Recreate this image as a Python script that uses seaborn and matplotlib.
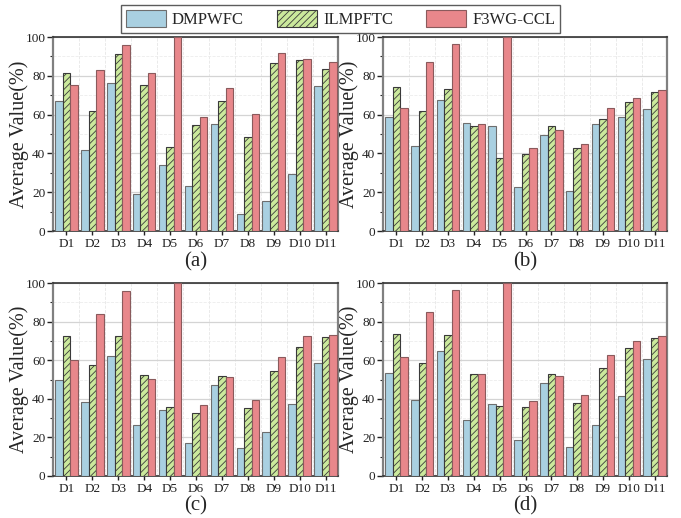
import matplotlib
matplotlib.use("Agg")
import matplotlib.pyplot as plt
import seaborn as sns
import pandas as pd
import numpy as np
from matplotlib.ticker import MultipleLocator
from matplotlib.patches import Patch

categories = ["D1", "D2", "D3", "D4", "D5", "D6", "D7", "D8", "D9", "D10", "D11"]
methods = ["DMPWFC", "ILMPFTC", "F3WG-CCL"]
panel_labels = ["(a)", "(b)", "(c)", "(d)"]

a_dmpwfc = [67.0, 41.9, 76.5, 18.9, 34.2, 23.4, 55.3, 8.6, 15.6, 29.6, 74.9]
a_ilmpftc = [81.6, 62.0, 91.1, 75.4, 43.3, 54.8, 67.2, 48.6, 86.8, 88.0, 83.3]
a_f3wg = [75.1, 83.0, 95.7, 81.3, 100.0, 58.9, 73.7, 60.5, 91.9, 88.7, 87.1]

b_dmpwfc = [58.8, 43.6, 67.7, 55.8, 54.1, 22.9, 49.5, 20.4, 55.0, 58.9, 62.7]
b_ilmpftc = [74.4, 62.0, 73.4, 54.1, 37.8, 39.9, 54.3, 43.0, 57.9, 66.7, 71.8]
b_f3wg = [63.6, 86.9, 96.6, 55.3, 100.0, 42.8, 52.2, 45.0, 63.6, 68.7, 72.7]

c_dmpwfc = [49.8, 38.4, 62.2, 26.2, 34.0, 16.9, 47.4, 14.7, 22.9, 37.1, 58.6]
c_ilmpftc = [72.6, 57.6, 72.6, 52.4, 35.9, 32.9, 51.9, 35.2, 54.3, 66.9, 72.1]
c_f3wg = [60.2, 84.0, 95.7, 50.5, 100.0, 36.6, 51.4, 39.5, 61.7, 72.4, 73.1]

d_dmpwfc = [53.3, 39.4, 64.9, 28.9, 37.4, 18.5, 48.1, 14.9, 26.3, 41.2, 60.6]
d_ilmpftc = [73.4, 58.5, 73.1, 53.1, 36.5, 35.6, 52.8, 37.7, 55.9, 66.3, 71.6]
d_f3wg = [61.4, 85.0, 96.4, 52.8, 100.0, 39.1, 51.7, 41.9, 62.6, 69.9, 72.7]

panels = [
    (a_dmpwfc, a_ilmpftc, a_f3wg),
    (b_dmpwfc, b_ilmpftc, b_f3wg),
    (c_dmpwfc, c_ilmpftc, c_f3wg),
    (d_dmpwfc, d_ilmpftc, d_f3wg),
]

colors = ["#a9d0e1", "#cbe99c", "#e8878b"]
edges = ["#6e6e6e", "#3a3a3a", "#8a5a5c"]
hatches = ["", "/////", ""]

sns.set_theme(style="white")
plt.rcParams["font.family"] = "serif"
plt.rcParams["font.serif"] = ["Liberation Serif", "DejaVu Serif"]
plt.rcParams["hatch.linewidth"] = 0.6
FAM = "Liberation Serif"

W, H = 681, 518
fig = plt.figure(figsize=(W / 100, H / 100), dpi=100)

# axes boxes in pixels: left, top, right, bottom
boxes = [
    (53, 37, 338, 231),
    (383, 37, 667, 231),
    (53, 283, 338, 476),
    (383, 283, 667, 476),
]

axes = []
for i, (vals, box) in enumerate(zip(panels, boxes)):
    l, t, r, b = box
    ax = fig.add_axes([l / W, 1 - b / H, (r - l) / W, (b - t) / H])
    axes.append(ax)
    df = pd.DataFrame({
        "Dataset": categories * 3,
        "Method": [m for m in methods for _ in categories],
        "Value": list(vals[0]) + list(vals[1]) + list(vals[2]),
    })
    sns.barplot(data=df, x="Dataset", y="Value", hue="Method", order=categories,
                hue_order=methods, palette=colors, width=0.87, gap=0,
                edgecolor="#6e6e6e", linewidth=0.8, saturation=1, ax=ax,
                legend=False, zorder=3)
    for k in range(3):
        for bar in ax.containers[k]:
            bar.set_hatch(hatches[k])
            bar.set_edgecolor(edges[k])
    ax.set_ylim(0, 100)
    ax.set_xlim(-0.52, 10.48)
    ax.yaxis.set_major_locator(MultipleLocator(20))
    ax.yaxis.set_minor_locator(MultipleLocator(10))
    ax.grid(axis="y", which="major", color="#d4d4d4", linewidth=0.9, zorder=0)
    ax.grid(axis="y", which="minor", color="#ececec", linewidth=0.6, linestyle="--", zorder=0)
    for xb in np.arange(0.5, 10.5, 1.0):
        ax.axvline(xb, color="#e6e6e6", linewidth=0.6, linestyle="--", zorder=0)
    ax.set_axisbelow(True)
    ax.set_xlabel("")
    ax.set_ylabel("Average Value(%)", fontsize=14.5, labelpad=-2.5, family=FAM)
    ax.tick_params(axis="both", labelsize=9.5, direction="out", colors="#222222")
    ax.tick_params(axis="y", which="major", length=4, width=1, left=True, pad=1.5)
    ax.tick_params(axis="y", which="minor", length=2.5, width=0.8, left=True)
    ax.tick_params(axis="x", which="major", length=3, width=1, bottom=True, pad=2)
    for lab in ax.get_xticklabels() + ax.get_yticklabels():
        lab.set_family(FAM)
    for side in ["left", "right"]:
        ax.spines[side].set_color("#808080")
        ax.spines[side].set_linewidth(1.6)
    for side in ["top", "bottom"]:
        ax.spines[side].set_color("#333333")
        ax.spines[side].set_linewidth(1.2)
    for s in ax.spines.values():
        s.set_visible(True)
    cx = (l + r) / 2 / W
    ly = 262 if i < 2 else 506
    fig.text(cx, 1 - ly / H, panel_labels[i], ha="center", va="center", fontsize=15, family=FAM)

handles = [Patch(facecolor=colors[k], edgecolor=edges[k], hatch=hatches[k], linewidth=0.8)
           for k in range(3)]
leg = fig.legend(handles, methods, loc="center", bbox_to_anchor=(340.5 / W, 1 - 19 / H),
                 ncol=3, prop={"family": FAM, "size": 12}, frameon=True, fancybox=False,
                 edgecolor="#333333", handlelength=2.4, handleheight=1.2,
                 columnspacing=2.0, handletextpad=0.35, borderpad=0.3)
leg.get_frame().set_linewidth(1.0)

fig.savefig("out.png", dpi=100)
